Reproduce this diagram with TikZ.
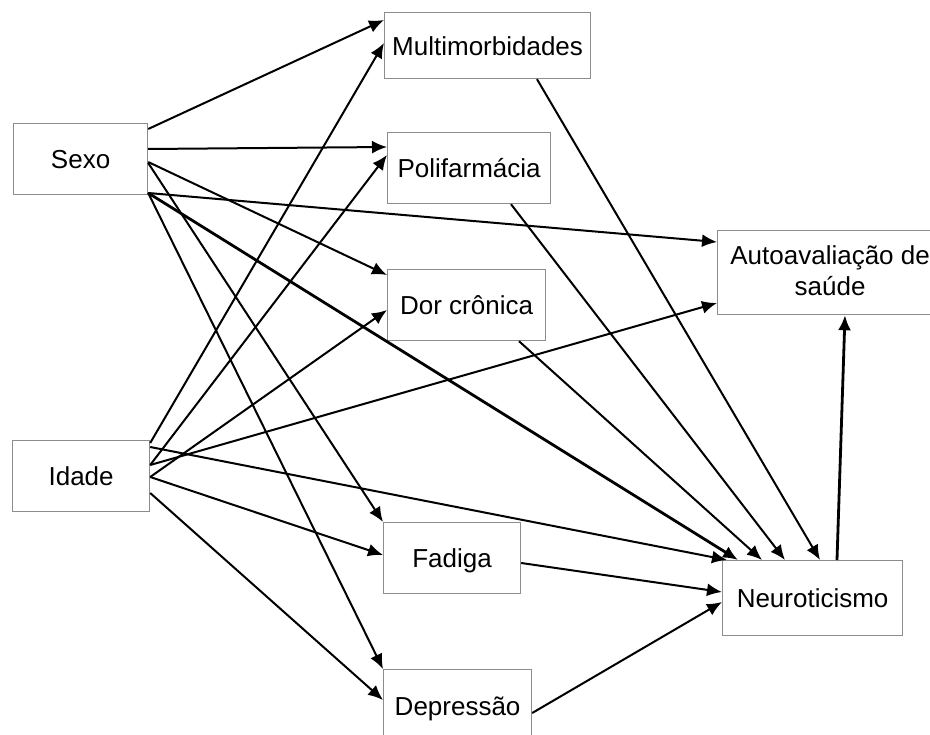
\documentclass[tikz,border=0pt]{standalone}
\usepackage{fontspec}
\setmainfont{Liberation Sans}
\usepackage{tikz}
\usetikzlibrary{backgrounds,arrows.meta}
\usepackage{xcolor}
\definecolor{boxgray}{RGB}{140,140,140}

\begin{document}
\begin{tikzpicture}[x=1pt, y=-1pt,
		>={Latex[length=15pt,width=13pt]},   %Pfeilspitzen
		box/.style={draw=boxgray, line width=1.2pt, fill=white, anchor=north west, inner sep=0pt,
			text height=19pt, text depth=0pt, align=center, minimum width=#1},
		arr/.style={->, line width=2pt},
		arrthick/.style={->, line width=2.8pt},
		font=\fontsize{26}{31}\selectfont]
		\useasboundingbox (0,0) rectangle (930,735);
		\begin{scope}[on background layer]
			\fill[white] (0,0) rectangle (930,735);
		\end{scope}
		% Kaesten
		\node[box=134, minimum height=71] (sexo) at (13,123) {Sexo};
		\node[box=137, minimum height=71] (idade) at (12,440) {Idade};
		\node[box=206, minimum height=66] (multi) at (384,12) {Multimorbidades};
		\node[box=163, minimum height=71] (poli) at (387,132) {Polifarmácia};
		\node[box=158, minimum height=71] (dor) at (387,269) {Dor crônica};
		\node[box=137, minimum height=71] (fadiga) at (383,522) {Fadiga};
		\node[box=148, minimum height=72] (depressao) at (383,669) {Depressão};
		\node[box=225, minimum height=84, text height=45pt] (auto) at (717,230) {Autoavaliação de\\saúde};
		\node[box=180, minimum height=75] (neuro) at (722,560) {Neuroticismo};
		% Pfeile von Sexo
		\draw[arr] (sexo.east |- 0,129) -- (multi.west |- 0,20);
		\draw[arr] (sexo.east |- 0,149) -- (poli.west |- 0,147);
		\draw[arr] (sexo.east |- 0,162) -- (dor.west |- 0,275);
		\draw[arr] (sexo.east |- 0,193) -- (auto.west |- 0,242);
		\draw[arrthick] (sexo.east |- 0,193) -- (neuro.north -| 738,0);
		\draw[arr] (sexo.east |- 0,163) -- (fadiga.north west);
		\draw[arr] (sexo.east |- 0,193) -- (depressao.north west);
		% Pfeile von Idade
		\draw[arr] (idade.east |- 0,443) -- (multi.west |- 0,43);
		\draw[arr] (idade.east |- 0,465) -- (poli.west |- 0,155);
		\draw[arr] (idade.east |- 0,477) -- (dor.west |- 0,310);
		\draw[arr] (idade.east |- 0,465) -- (auto.west |- 0,303);
		\draw[arr] (idade.east |- 0,447) -- (neuro.north -| 727,0);
		\draw[arr] (idade.east |- 0,477) -- (fadiga.west |- 0,555);
		\draw[arr] (idade.east |- 0,493) -- (depressao.west |- 0,700);
		% Pfeile zu Neuroticismo
		\draw[arr] (multi.south -| 537,0) -- (neuro.north -| 820,0);
		\draw[arr] (poli.south -| 511,0) -- (neuro.north -| 785,0);
		\draw[arr] (dor.south -| 519,0) -- (neuro.north -| 762,0);
		\draw[arr] (fadiga.east |- 0,563) -- (neuro.west |- 0,592);
		\draw[arr] (depressao.east |- 0,713) -- (neuro.west |- 0,602);
		% Neuroticismo -> Autoavaliacao
		\draw[arrthick] (neuro.north -| 837,0) -- (auto.south -| 845,0);
	\end{tikzpicture}
\end{document}
